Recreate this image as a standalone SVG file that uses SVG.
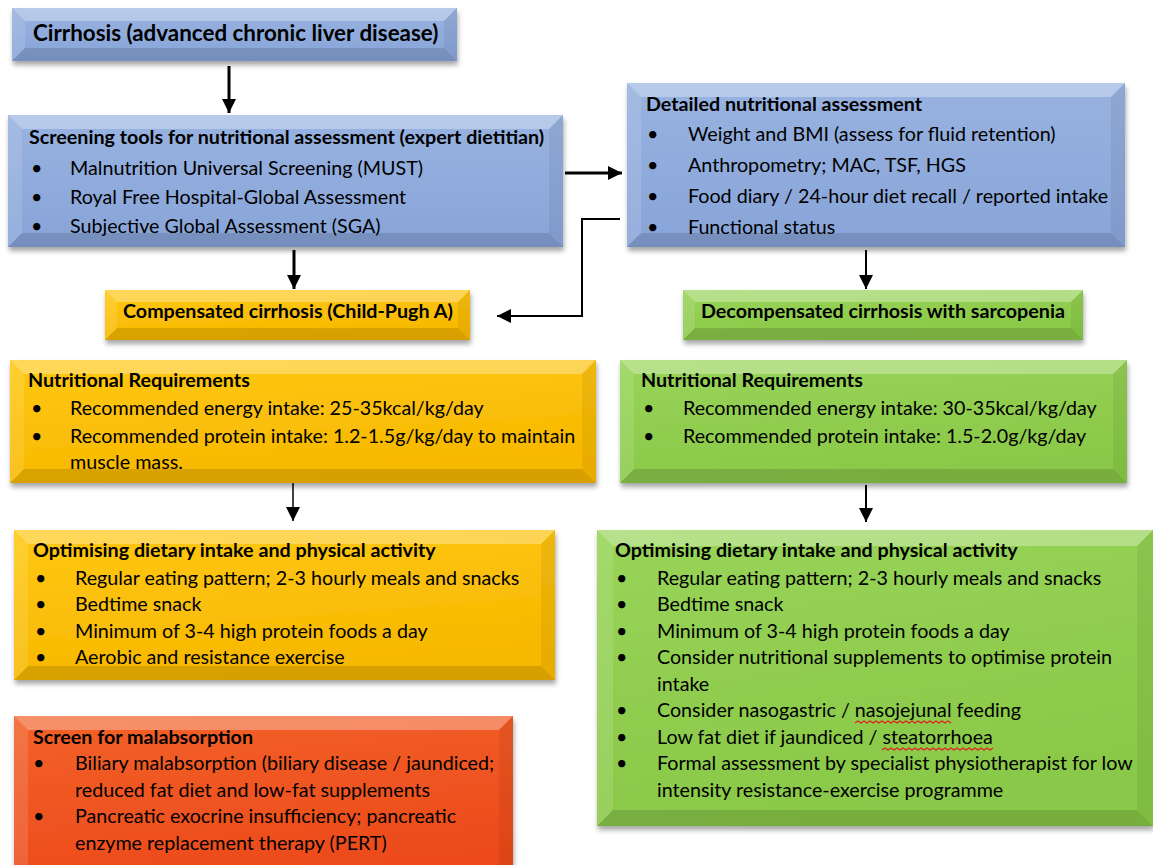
<svg xmlns="http://www.w3.org/2000/svg" width="1153" height="865" viewBox="0 0 1153 865">
<style>
  .t{font-family:Lato,"Liberation Sans",sans-serif;font-size:19.7px;fill:#000}
  .b{font-weight:bold}
  .big{font-size:22.4px}
  .bt{fill:#fff;opacity:.3}
  .bl{fill:#fff;opacity:.12}
  .br{fill:#000;opacity:.06}
  .bb{fill:#000;opacity:.13}
  .c{stroke:#000;fill:none}
  .sq{stroke:#e02020;stroke-width:1.2;fill:none}
</style>
<defs>
  <linearGradient id="gBlue" x1="0" y1="0" x2="0" y2="1"><stop offset="0" stop-color="#98B3E0"/><stop offset="1" stop-color="#88A4D8"/></linearGradient>
  <linearGradient id="gYel" x1="0" y1="0" x2="0.3" y2="1"><stop offset="0" stop-color="#FFC814"/><stop offset="1" stop-color="#F7B800"/></linearGradient>
  <linearGradient id="gGrn" x1="0" y1="0" x2="0.3" y2="1"><stop offset="0" stop-color="#98D458"/><stop offset="1" stop-color="#8AC848"/></linearGradient>
  <linearGradient id="gRed" x1="0" y1="0" x2="0.3" y2="1"><stop offset="0" stop-color="#F3622A"/><stop offset="1" stop-color="#EC4A1A"/></linearGradient>
  <filter id="sh" x="-5%" y="-10%" width="110%" height="130%"><feDropShadow dx="1" dy="4" stdDeviation="2.5" flood-color="#000" flood-opacity=".35"/></filter>
  <marker id="ah" markerUnits="userSpaceOnUse" markerWidth="16" markerHeight="14" refX="14" refY="7" orient="auto"><path d="M0,0 L14,7 L0,14 z" fill="#000"/></marker>
</defs>
<rect width="1153" height="865" fill="#fff"/>

<g id="connectors">
  <line class="c" x1="229" y1="66" x2="229" y2="113" stroke-width="3" marker-end="url(#ah)"/>
  <line class="c" x1="565" y1="173" x2="622" y2="173" stroke-width="3" marker-end="url(#ah)"/>
  <polyline class="c" points="620,219 582,219 582,316 497,316" stroke-width="2" marker-end="url(#ah)"/>
  <line class="c" x1="294" y1="250" x2="294" y2="289" stroke-width="3" marker-end="url(#ah)"/>
  <line class="c" x1="866" y1="250" x2="866" y2="289" stroke-width="2" marker-end="url(#ah)"/>
  <line class="c" x1="293" y1="483" x2="293" y2="521" stroke-width="1.5" marker-end="url(#ah)"/>
  <line class="c" x1="866" y1="485" x2="866" y2="522" stroke-width="2" marker-end="url(#ah)"/>
</g>

<g id="cirrhosis">
  <g filter="url(#sh)">
    <rect x="12" y="8" width="445" height="53" fill="url(#gBlue)"/>
    <polygon class="bt" points="12,8 457,8 444,21 25,21"/>
    <polygon class="bb" points="12,61 457,61 444,48 25,48"/>
    <polygon class="bl" points="12,8 25,21 25,48 12,61"/>
    <polygon class="br" points="457,8 444,21 444,48 457,61"/>
  </g>
  <text class="t b big" x="33" y="41">Cirrhosis (advanced chronic liver disease)</text>
</g>

<g id="screening">
  <g filter="url(#sh)">
    <rect x="8" y="115" width="555" height="132" fill="url(#gBlue)"/>
    <polygon class="bt" points="8,115 563,115 549,129 22,129"/>
    <polygon class="bb" points="8,247 563,247 549,233 22,233"/>
    <polygon class="bl" points="8,115 22,129 22,233 8,247"/>
    <polygon class="br" points="563,115 549,129 549,233 563,247"/>
  </g>
  <text class="t b" x="29" y="144">Screening tools for nutritional assessment (expert dietitian)</text>
  <text class="t" x="31" y="175">•</text><text class="t" x="70" y="175">Malnutrition Universal Screening (MUST)</text>
  <text class="t" x="31" y="204">•</text><text class="t" x="70" y="204">Royal Free Hospital-Global Assessment</text>
  <text class="t" x="31" y="233">•</text><text class="t" x="70" y="233">Subjective Global Assessment (SGA)</text>
</g>

<g id="detailed">
  <g filter="url(#sh)">
    <rect x="627" y="83" width="498" height="164" fill="url(#gBlue)"/>
    <polygon class="bt" points="627,83 1125,83 1111,97 641,97"/>
    <polygon class="bb" points="627,247 1125,247 1111,233 641,233"/>
    <polygon class="bl" points="627,83 641,97 641,233 627,247"/>
    <polygon class="br" points="1125,83 1111,97 1111,233 1125,247"/>
  </g>
  <text class="t b" x="646" y="111">Detailed nutritional assessment</text>
  <text class="t" x="647" y="141">•</text><text class="t" x="688" y="141">Weight and BMI (assess for fluid retention)</text>
  <text class="t" x="647" y="172">•</text><text class="t" x="688" y="172">Anthropometry; MAC, TSF, HGS</text>
  <text class="t" x="647" y="203">•</text><text class="t" x="688" y="203">Food diary / 24-hour diet recall / reported intake</text>
  <text class="t" x="647" y="234">•</text><text class="t" x="688" y="234">Functional status</text>
</g>

<g id="compensated">
  <g filter="url(#sh)">
    <rect x="105" y="290" width="365" height="50" fill="url(#gYel)"/>
    <polygon class="bt" points="105,290 470,290 458,302 117,302"/>
    <polygon class="bb" points="105,340 470,340 458,328 117,328"/>
    <polygon class="bl" points="105,290 117,302 117,328 105,340"/>
    <polygon class="br" points="470,290 458,302 458,328 470,340"/>
  </g>
  <text class="t b" x="123" y="318">Compensated cirrhosis (Child-Pugh A)</text>
</g>

<g id="decompensated">
  <g filter="url(#sh)">
    <rect x="683" y="290" width="400" height="50" fill="url(#gGrn)"/>
    <polygon class="bt" points="683,290 1083,290 1071,302 695,302"/>
    <polygon class="bb" points="683,340 1083,340 1071,328 695,328"/>
    <polygon class="bl" points="683,290 695,302 695,328 683,340"/>
    <polygon class="br" points="1083,290 1071,302 1071,328 1083,340"/>
  </g>
  <text class="t b" x="701" y="318">Decompensated cirrhosis with sarcopenia</text>
</g>

<g id="req-compensated">
  <g filter="url(#sh)">
    <rect x="10" y="360" width="586" height="123" fill="url(#gYel)"/>
    <polygon class="bt" points="10,360 596,360 582,374 24,374"/>
    <polygon class="bb" points="10,483 596,483 582,469 24,469"/>
    <polygon class="bl" points="10,360 24,374 24,469 10,483"/>
    <polygon class="br" points="596,360 582,374 582,469 596,483"/>
  </g>
  <text class="t b" x="28" y="387">Nutritional Requirements</text>
  <text class="t" x="31" y="415">•</text><text class="t" x="70" y="415">Recommended energy intake: 25-35kcal/kg/day</text>
  <text class="t" x="31" y="443">•</text><text class="t" x="70" y="443">Recommended protein intake: 1.2-1.5g/kg/day to maintain</text>
  <text class="t" x="70" y="469">muscle mass.</text>
</g>

<g id="req-decompensated">
  <g filter="url(#sh)">
    <rect x="620" y="360" width="507" height="123" fill="url(#gGrn)"/>
    <polygon class="bt" points="620,360 1127,360 1113,374 634,374"/>
    <polygon class="bb" points="620,483 1127,483 1113,469 634,469"/>
    <polygon class="bl" points="620,360 634,374 634,469 620,483"/>
    <polygon class="br" points="1127,360 1113,374 1113,469 1127,483"/>
  </g>
  <text class="t b" x="641" y="387">Nutritional Requirements</text>
  <text class="t" x="643" y="415">•</text><text class="t" x="683" y="415">Recommended energy intake: 30-35kcal/kg/day</text>
  <text class="t" x="643" y="443">•</text><text class="t" x="683" y="443">Recommended protein intake: 1.5-2.0g/kg/day</text>
</g>

<g id="optimise-compensated">
  <g filter="url(#sh)">
    <rect x="14" y="530" width="541" height="150" fill="url(#gYel)"/>
    <polygon class="bt" points="14,530 555,530 541,544 28,544"/>
    <polygon class="bb" points="14,680 555,680 541,666 28,666"/>
    <polygon class="bl" points="14,530 28,544 28,666 14,680"/>
    <polygon class="br" points="555,530 541,544 541,666 555,680"/>
  </g>
  <text class="t b" x="33" y="557">Optimising dietary intake and physical activity</text>
  <text class="t" x="35" y="585">•</text><text class="t" x="75" y="585">Regular eating pattern; 2-3 hourly meals and snacks</text>
  <text class="t" x="35" y="611">•</text><text class="t" x="75" y="611">Bedtime snack</text>
  <text class="t" x="35" y="638">•</text><text class="t" x="75" y="638">Minimum of 3-4 high protein foods a day</text>
  <text class="t" x="35" y="664">•</text><text class="t" x="75" y="664">Aerobic and resistance exercise</text>
</g>

<g id="optimise-decompensated">
  <g filter="url(#sh)">
    <rect x="597" y="530" width="556" height="296" fill="url(#gGrn)"/>
    <polygon class="bt" points="597,530 1153,530 1137,546 613,546"/>
    <polygon class="bb" points="597,826 1153,826 1137,810 613,810"/>
    <polygon class="bl" points="597,530 613,546 613,810 597,826"/>
    <polygon class="br" points="1153,530 1137,546 1137,810 1153,826"/>
  </g>
  <text class="t b" x="615" y="557">Optimising dietary intake and physical activity</text>
  <text class="t" x="616" y="585">•</text><text class="t" x="657" y="585">Regular eating pattern; 2-3 hourly meals and snacks</text>
  <text class="t" x="616" y="611">•</text><text class="t" x="657" y="611">Bedtime snack</text>
  <text class="t" x="616" y="638">•</text><text class="t" x="657" y="638">Minimum of 3-4 high protein foods a day</text>
  <text class="t" x="616" y="664">•</text><text class="t" x="657" y="664">Consider nutritional supplements to optimise protein</text>
  <text class="t" x="657" y="691">intake</text>
  <text class="t" x="616" y="717">•</text><text class="t" x="657" y="717">Consider nasogastric / nasojejunal feeding</text>
  <text class="t" x="616" y="744">•</text><text class="t" x="657" y="744">Low fat diet if jaundiced / steatorrhoea</text>
  <text class="t" x="616" y="770">•</text><text class="t" x="657" y="770">Formal assessment by specialist physiotherapist for low</text>
  <text class="t" x="657" y="797">intensity resistance-exercise programme</text>
  <path class="sq" d="M855,723 l3,-2 l3,2 l3,-2 l3,2 l3,-2 l3,2 l3,-2 l3,2 l3,-2 l3,2 l3,-2 l3,2 l3,-2 l3,2 l3,-2 l3,2 l3,-2 l3,2 l3,-2 l3,2 l3,-2 l3,2 l3,-2 l3,2 l3,-2 l3,2 l3,-2 l3,2 l3,-2 l3,2 l3,-2 l3,2"/>
  <path class="sq" d="M882,750 l3,-2 l3,2 l3,-2 l3,2 l3,-2 l3,2 l3,-2 l3,2 l3,-2 l3,2 l3,-2 l3,2 l3,-2 l3,2 l3,-2 l3,2 l3,-2 l3,2 l3,-2 l3,2 l3,-2 l3,2 l3,-2 l3,2 l3,-2 l3,2 l3,-2 l3,2 l3,-2 l3,2 l3,-2 l3,2 l3,-2 l3,2 l3,-2 l3,2 l3,-2"/>
</g>

<g id="malabsorption">
  <g filter="url(#sh)">
    <rect x="14" y="716" width="499" height="170" fill="url(#gRed)"/>
    <polygon class="bt" points="14,716 513,716 499,730 28,730"/>
    <polygon class="bl" points="14,716 28,730 28,886 14,886"/>
    <polygon class="br" points="513,716 499,730 499,886 513,886"/>
  </g>
  <text class="t b" x="33" y="744">Screen for malabsorption</text>
  <text class="t" x="33" y="770">•</text><text class="t" x="75" y="770">Biliary malabsorption (biliary disease / jaundiced;</text>
  <text class="t" x="75" y="797">reduced fat diet and low-fat supplements</text>
  <text class="t" x="33" y="823">•</text><text class="t" x="75" y="823">Pancreatic exocrine insufficiency; pancreatic</text>
  <text class="t" x="75" y="850">enzyme replacement therapy (PERT)</text>
</g>
</svg>
